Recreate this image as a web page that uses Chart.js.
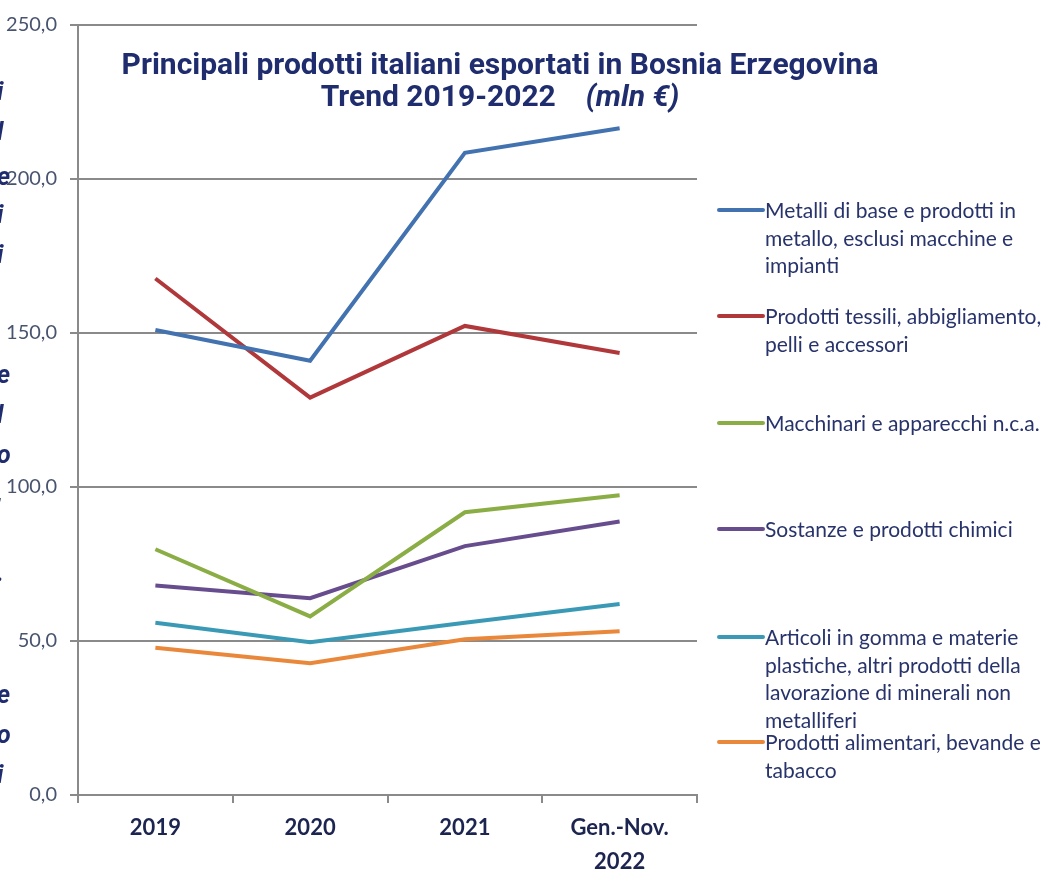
<!DOCTYPE html>
<html>
<head>
<meta charset="utf-8">
<script src="https://cdn.jsdelivr.net/npm/chart.js@4"></script>
<style>
  body { margin: 0; background: #fff; overflow: hidden; }
  #wrap { position: relative; width: 1048px; height: 870px; }
  #title {
    position: absolute; left: 0; width: 1000px; top: 48px;
    text-align: center; font-family: Roboto, sans-serif; font-weight: 700;
    font-size: 30px; line-height: 32px; color: #1f2d6e;
  }
  .leg { position: absolute; left: 717px; font-family: Lato, sans-serif; font-size: 21px;
         line-height: 27.5px; color: #27336a; white-space: nowrap; }
  .leg .sw { position: absolute; left: 0; top: 12px; width: 48px; height: 4px; border-radius: 2px; }
  .leg .tx { margin-left: 48px; }
  .frag { position: absolute; left: -3px; font-family: Roboto, sans-serif; font-style: italic;
          font-weight: 700; font-size: 25px; color: #1f2d6e; }
</style>
</head>
<body>
<div id="wrap">
  <canvas id="myChart" width="1048" height="870"></canvas>
  <div id="title">Principali prodotti italiani esportati in Bosnia Erzegovina<br>
    Trend 2019-2022&nbsp;&nbsp;&nbsp;&nbsp;<i>(mln €)</i></div>
  <div id="legend"></div>
  <div id="frags"></div>
</div>
<script>
var categories = ["2019", "2020", "2021", ["Gen.-Nov.", "2022"]];

var metalli   = [151.0, 141.0, 208.5, 216.5];
var tessili   = [167.7, 129.0, 152.3, 143.5];
var macchine  = [79.8, 58.0, 91.8, 97.3];
var chimici   = [68.0, 63.9, 80.8, 88.8];
var gomma     = [55.9, 49.6, 55.9, 62.0];
var alimentari = [47.8, 42.8, 50.6, 53.2];

var seriesNames = [
  ["Metalli di base e prodotti in", "metallo, esclusi macchine e", "impianti"],
  ["Prodotti tessili, abbigliamento,", "pelli e accessori"],
  ["Macchinari e apparecchi n.c.a."],
  ["Sostanze e prodotti chimici"],
  ["Articoli in gomma e materie", "plastiche, altri prodotti della", "lavorazione di minerali non", "metalliferi"],
  ["Prodotti alimentari, bevande e", "tabacco"]
];
var seriesColors = ["#4272b0", "#b0383a", "#8aae45", "#674d8e", "#3a9ab6", "#e9883b"];
var legendTops = [196, 302, 409, 515, 623, 728];

var seriesData = [metalli, tessili, macchine, chimici, gomma, alimentari];

// clipped letters on the left edge of the page
var fragLetters = ["i", "l", "e", "i", "i", "e", "l", "o", ",", ".", "e", "o", "i"];
var fragTops = [77, 117, 162, 200, 240, 360, 400, 440, 478, 558, 680, 720, 760];

var datasets = [];
for (var i = 0; i < seriesData.length; i++) {
    datasets.push({
        label: seriesNames[i].join(" "),
        data: seriesData[i],
        borderColor: seriesColors[i],
        backgroundColor: seriesColors[i],
        borderWidth: 4,
        pointRadius: 0,
        tension: 0,
        fill: false
    });
}

new Chart(document.getElementById("myChart"), {
    type: "line",
    data: { labels: categories, datasets: datasets },
    options: {
        responsive: false,
        animation: false,
        layout: { padding: { top: 20, right: 351, left: 0, bottom: 0 } },
        plugins: { legend: { display: false }, tooltip: { enabled: false } },
        scales: {
            x: {
                offset: true,
                grid: { offset: true, drawOnChartArea: false, tickLength: 8, color: "#8a8a8a", lineWidth: 2 },
                border: { color: "#8a8a8a", width: 2 },
                ticks: {
                    color: "#1c2450",
                    font: { family: "Lato", size: 22, weight: "bold", lineHeight: 1.55 },
                    padding: 8,
                    maxRotation: 0
                },
                afterFit: function(scale) { scale.height = 75; }
            },
            y: {
                min: 0, max: 250,
                grid: { color: "#8a8a8a", lineWidth: 2, tickLength: 8 },
                border: { color: "#8a8a8a", width: 2 },
                ticks: {
                    stepSize: 50,
                    color: "#48546f",
                    padding: 13,
                    font: { family: "Lato", size: 20 },
                    callback: function(v) { return v.toFixed(1).replace(".", ","); }
                },
                afterFit: function(scale) { scale.width = 78; }
            }
        }
    }
});

var leg = document.getElementById("legend");
for (var j = 0; j < seriesNames.length; j++) {
    var d = document.createElement("div");
    d.className = "leg";
    d.style.top = legendTops[j] + "px";
    d.innerHTML = '<div class="sw" style="background:' + seriesColors[j] + '"></div><div class="tx">' +
        seriesNames[j].join("<br>") + '</div>';
    leg.appendChild(d);
}

var fr = document.getElementById("frags");
for (var k = 0; k < fragLetters.length; k++) {
    var s = document.createElement("div");
    s.className = "frag";
    s.style.top = fragTops[k] + "px";
    s.textContent = fragLetters[k];
    fr.appendChild(s);
}
</script>
</body>
</html>
